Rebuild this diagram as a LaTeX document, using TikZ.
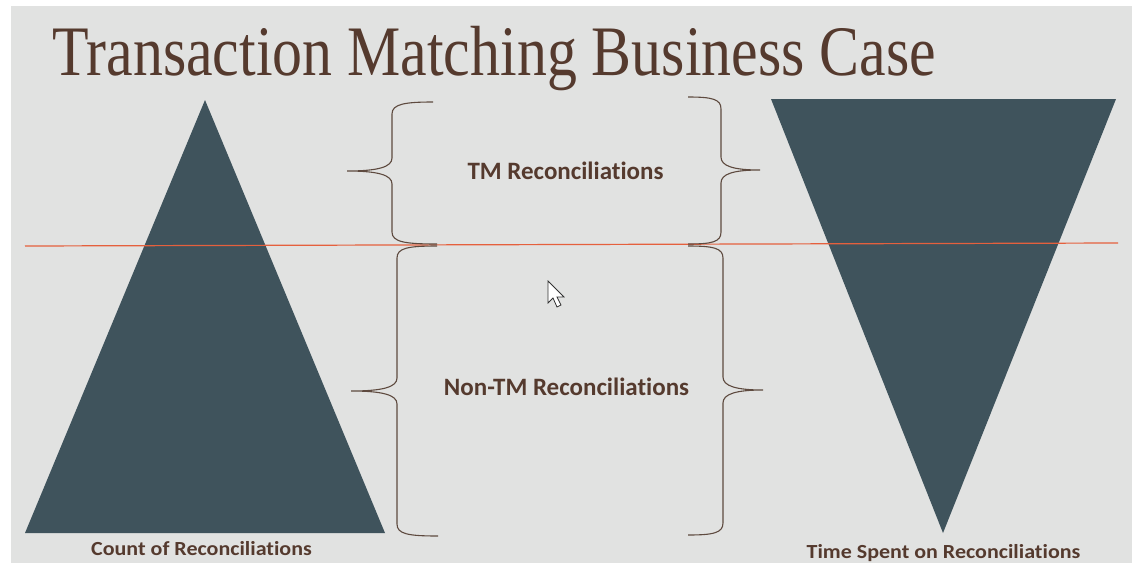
\documentclass[tikz,border=0pt]{standalone}
\usepackage{fontspec}
\setmainfont{Liberation Serif}
\newfontfamily\calfont[Ligatures=NoCommon]{Carlito}
\usetikzlibrary{positioning}

\definecolor{slidebg}{HTML}{E1E2E1}
\definecolor{slate}{HTML}{3F535C}
\definecolor{brownink}{HTML}{553A2E}
\definecolor{cutline}{HTML}{E5603D}
\definecolor{bracebrown}{HTML}{5E4A3F}

\begin{document}
\begin{tikzpicture}[x=1pt,y=-1pt,
    heading/.style={anchor=base west,inner sep=0pt,text=brownink,font=\fontsize{71}{71}\selectfont},
    band/.style={anchor=base,inner sep=0pt,text=brownink,font=\calfont\bfseries\fontsize{25}{25}\selectfont},
    caption/.style={anchor=base,inner sep=0pt,text=brownink,font=\calfont\bfseries\fontsize{20}{20}\selectfont},
    curly/.style={draw=bracebrown,line width=1.1pt}]
    \useasboundingbox (0,0) rectangle (1132,563);
    \fill[white] (0,0) rectangle (1132,563);
    \fill[slidebg] (11,6) rectangle (1132,563);

    % title
    \node[heading] (title) at (52,75) {\scalebox{0.843}[1]{Transaction Matching Business Case}};

    % the two triangles
    \fill[slate] (205,100) -- (385,533) -- (25,533) -- cycle;
    \fill[slate] (771,99) -- (1116,99) -- (943,533) -- cycle;

    % cut-off line
    \draw[cutline,line width=1.2pt] (25,246) -- (1118,243);

    % braces
    \draw[curly] (433,102) .. controls (405,102) and (392,104) .. (392,114) -- (392,158)
        .. controls (392,167) and (378,171) .. (347,171)
        .. controls (378,171) and (392,175) .. (392,184) -- (392,232)
        .. controls (392,242) and (405,244) .. (437,244);
    \draw[curly] (688,97) .. controls (712,97) and (721,99) .. (721,109) -- (721,157)
        .. controls (721,166) and (733,170) .. (760,170)
        .. controls (733,170) and (721,174) .. (721,183) -- (721,232)
        .. controls (721,242) and (712,244) .. (688,244);
    \draw[curly] (437,246) .. controls (408,246) and (397,248) .. (397,258) -- (397,378)
        .. controls (397,387) and (383,391) .. (351,391)
        .. controls (383,391) and (397,395) .. (397,404) -- (397,524)
        .. controls (397,534) and (408,536) .. (438,536);
    \draw[curly] (688,246) .. controls (713,246) and (723,248) .. (723,258) -- (723,377)
        .. controls (723,386) and (736,390) .. (763,390)
        .. controls (736,390) and (723,394) .. (723,403) -- (723,523)
        .. controls (723,533) and (713,535) .. (688,535);

    % labels
    \node[band] (tmband) at (565.5,179) {TM Reconciliations};
    \node[band] (nontmband) at (566.5,395) {Non-TM Reconciliations};
    \node[caption] (countcap) at (201.5,555) {\scalebox{1.1}[1]{Count of Reconciliations}};
    \node[caption] (timecap) at (943.5,558) {\scalebox{1.1}[1]{Time Spent on Reconciliations}};

    % mouse pointer
    \draw[fill=white,draw=black!80,line width=0.8pt,line join=miter]
        (548,281) -- (548,303) -- (553,298) -- (557,307) -- (561,305) -- (557,297) -- (564,297) -- cycle;
\end{tikzpicture}
\end{document}
